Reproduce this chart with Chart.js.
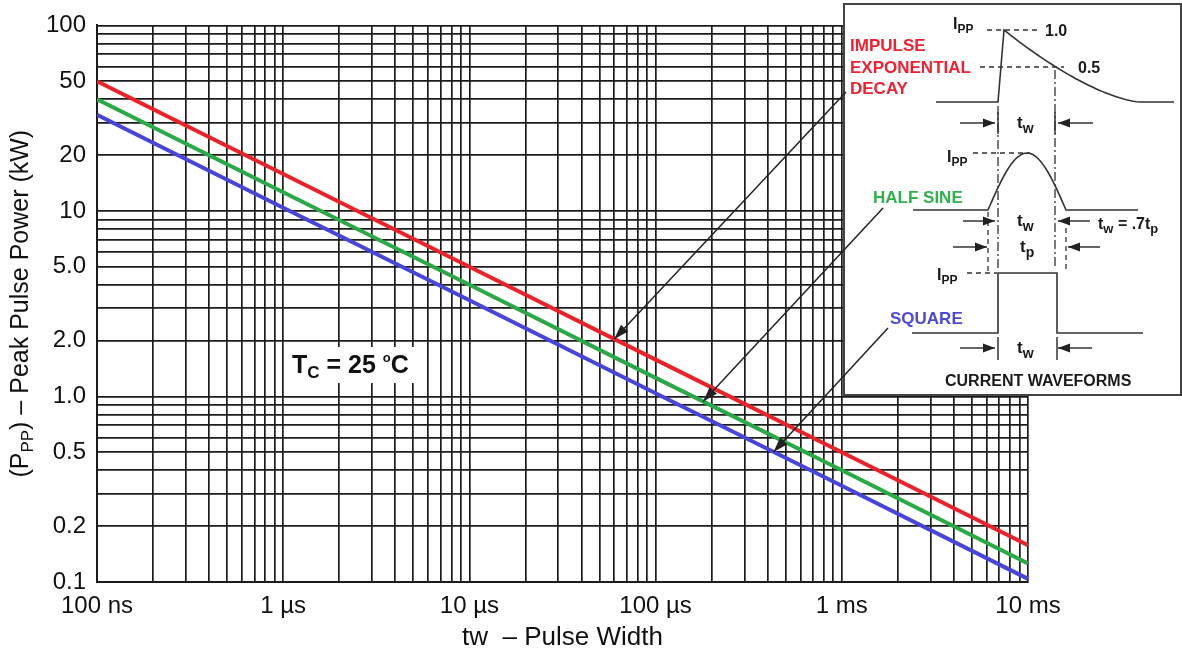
<!DOCTYPE html>
<html>
<head>
<meta charset="utf-8">
<script src="https://cdn.jsdelivr.net/npm/chart.js@4.4.0/dist/chart.umd.min.js"></script>
<style>
  html, body { margin: 0; padding: 0; background: #fff; }
  #wrap { width: 1182px; height: 661px; }
</style>
</head>
<body>
<div id="wrap"><canvas id="pulseChart" width="1182" height="661"></canvas></div>
<script>
const FONT = "'Liberation Sans', Arial, Helvetica, sans-serif";

// pulse width (s) and peak pulse power (kW)
const pulseWidths = [1e-7, 1e-6, 1e-5, 1e-4, 1e-3, 1e-2];
const impulsePower = [50, 15.8, 5.0, 1.58, 0.5, 0.158];
const halfSinePower = [40, 12.6, 4.0, 1.26, 0.4, 0.126];
const squarePower = [33, 10.4, 3.3, 1.04, 0.33, 0.104];

const xTickValues = [1e-7, 1e-6, 1e-5, 1e-4, 1e-3, 1e-2];
const xTickLabels = ['100 ns', '1 µs', '10 µs', '100 µs', '1 ms', '10 ms'];
const yTickValues = [100, 50, 20, 10, 5, 2, 1, 0.5, 0.2, 0.1];
const yTickLabels = ['100', '50', '20', '10', '5.0', '2.0', '1.0', '0.5', '0.2', '0.1'];

// grid lines at 1..9 x every decade
function decadeGrid(minExp, maxExp) {
    const out = [];
    for (let e = minExp; e < maxExp; e++) {
        for (let m = 1; m <= 9; m++) out.push(Number((m * Math.pow(10, e)).toPrecision(3)));
    }
    out.push(Math.pow(10, maxExp));
    return out;
}

function labelFor(v, values, labels) {
    const i = values.findIndex(t => Math.abs(Math.log10(t) - Math.log10(v)) < 1e-6);
    return i < 0 ? '' : labels[i];
}

// log-log interpolation along a series, used to aim the arrows
function powerAt(series, t) {
    for (let i = 0; i < pulseWidths.length - 1; i++) {
        if (t >= pulseWidths[i] && t <= pulseWidths[i + 1]) {
            const f = (Math.log10(t) - Math.log10(pulseWidths[i])) /
                      (Math.log10(pulseWidths[i + 1]) - Math.log10(pulseWidths[i]));
            return Math.pow(10, Math.log10(series[i]) + f * (Math.log10(series[i + 1]) - Math.log10(series[i])));
        }
    }
    return series[series.length - 1];
}

const toPoints = arr => arr.map((p, i) => ({ x: pulseWidths[i], y: p }));

function drawRich(ctx, x, y, parts) {
    let cx = x;
    parts.forEach(p => {
        ctx.font = (p.bold ? 'bold ' : '') + p.size + 'px ' + FONT;
        ctx.fillText(p.t, cx, y + (p.dy || 0));
        cx += ctx.measureText(p.t).width;
    });
    return cx;
}

function richWidth(ctx, parts) {
    let w = 0;
    parts.forEach(p => {
        ctx.font = (p.bold ? 'bold ' : '') + p.size + 'px ' + FONT;
        w += ctx.measureText(p.t).width;
    });
    return w;
}

function arrowHead(ctx, x0, y0, x1, y1, len, half) {
    const a = Math.atan2(y1 - y0, x1 - x0);
    ctx.beginPath();
    ctx.moveTo(x1, y1);
    ctx.lineTo(x1 - len * Math.cos(a) + half * Math.sin(a), y1 - len * Math.sin(a) - half * Math.cos(a));
    ctx.lineTo(x1 - len * Math.cos(a) - half * Math.sin(a), y1 - len * Math.sin(a) + half * Math.cos(a));
    ctx.closePath();
    ctx.fill();
}

function arrow(ctx, x0, y0, x1, y1, len, half) {
    ctx.beginPath();
    ctx.moveTo(x0, y0);
    ctx.lineTo(x1, y1);
    ctx.stroke();
    arrowHead(ctx, x0, y0, x1, y1, len, half);
}

function tSub(ctx, x, y, sub) {
    drawRich(ctx, x, y, [{ t: 't', size: 17, bold: true }, { t: sub, size: 14, bold: true, dy: 5 }]);
}

function ippLabel(ctx, x, y) {
    drawRich(ctx, x, y, [{ t: 'I', size: 16, bold: true }, { t: 'PP', size: 12, bold: true, dy: 4 }]);
}

function drawInset(ctx) {
    ctx.save();
    ctx.fillStyle = '#fff';
    ctx.fillRect(844, 4, 338, 391);
    ctx.strokeStyle = '#444';
    ctx.lineWidth = 2;
    ctx.strokeRect(844, 4, 337, 391);

    ctx.strokeStyle = '#333';
    ctx.fillStyle = '#222';
    ctx.lineWidth = 1.6;

    // impulse exponential decay
    ctx.beginPath();
    ctx.moveTo(936, 102);
    ctx.lineTo(998, 102);
    ctx.lineTo(1004, 30);
    for (let i = 1; i <= 40; i++) {
        const s = i / 40;
        ctx.lineTo(1004 + s * 136, 102 - 72 * Math.pow(1 - s, 1.5));
    }
    ctx.lineTo(1174, 102);
    ctx.stroke();

    // half sine
    ctx.beginPath();
    ctx.moveTo(913, 210);
    ctx.lineTo(988, 210);
    for (let i = 1; i <= 40; i++) {
        const s = i / 40;
        ctx.lineTo(988 + s * 78, 210 - 57 * Math.sin(Math.PI * s));
    }
    ctx.lineTo(1138, 210);
    ctx.stroke();

    // square
    ctx.beginPath();
    ctx.moveTo(912, 333);
    ctx.lineTo(998, 333);
    ctx.lineTo(998, 273);
    ctx.lineTo(1057, 273);
    ctx.lineTo(1057, 333);
    ctx.lineTo(1143, 333);
    ctx.stroke();

    // dashed reference lines
    ctx.lineWidth = 1.3;
    ctx.setLineDash([5, 4]);
    [[987, 30, 1040, 30], [980, 67, 1064, 67], [973, 153, 1030, 153], [967, 273, 997, 273],
     [988, 212, 988, 272], [1066, 228, 1066, 270]].forEach(l => {
        ctx.beginPath();
        ctx.moveTo(l[0], l[1]);
        ctx.lineTo(l[2], l[3]);
        ctx.stroke();
    });
    ctx.setLineDash([9, 3, 2, 3]);
    [[998, 106, 998, 268], [1055, 70, 1055, 268]].forEach(l => {
        ctx.beginPath();
        ctx.moveTo(l[0], l[1]);
        ctx.lineTo(l[2], l[3]);
        ctx.stroke();
    });
    ctx.setLineDash([]);

    // short solid markers
    ctx.lineWidth = 1.5;
    [[998, 337, 998, 360], [1057, 337, 1057, 360], [998, 112, 998, 134], [1055, 112, 1055, 134]].forEach(l => {
        ctx.beginPath();
        ctx.moveTo(l[0], l[1]);
        ctx.lineTo(l[2], l[3]);
        ctx.stroke();
    });

    // width arrows
    [[960, 995, 123], [1093, 1058, 123], [963, 995, 221], [1090, 1058, 221],
     [953, 987, 247], [1100, 1068, 247], [960, 995, 348], [1092, 1058, 348]].forEach(a => {
        arrow(ctx, a[0], a[2], a[1], a[2], 12, 4.5);
    });

    // texts
    ctx.fillStyle = '#1a1a1a';
    ippLabel(ctx, 953, 29);
    ippLabel(ctx, 947, 162);
    ippLabel(ctx, 937, 280);
    ctx.font = 'bold 16px ' + FONT;
    ctx.fillText('1.0', 1045, 36);
    ctx.fillText('0.5', 1078, 73);
    tSub(ctx, 1017, 128, 'w');
    tSub(ctx, 1017, 226, 'w');
    tSub(ctx, 1020, 252, 'p');
    tSub(ctx, 1017, 353, 'w');
    drawRich(ctx, 1098, 229, [{ t: 't', size: 16, bold: true }, { t: 'w', size: 13, bold: true, dy: 4 },
        { t: ' = .7t', size: 16, bold: true }, { t: 'p', size: 13, bold: true, dy: 4 }]);
    ctx.font = 'bold 16px ' + FONT;
    ctx.fillText('CURRENT WAVEFORMS', 945, 386);

    // waveform names
    ctx.font = 'bold 17px ' + FONT;
    ctx.fillStyle = '#ee2233';
    ctx.fillText('IMPULSE', 850, 51);
    ctx.fillText('EXPONENTIAL', 850, 73);
    ctx.fillText('DECAY', 850, 94);
    ctx.fillStyle = '#2fb14c';
    ctx.fillText('HALF SINE', 873, 203);
    ctx.fillStyle = '#4b4bd6';
    ctx.fillText('SQUARE', 890, 324);
    ctx.restore();
}

const overlayPlugin = {
    id: 'overlay',
    afterDraw(chart) {
        const ctx = chart.ctx;
        const xs = chart.scales.x;
        const ys = chart.scales.y;

        // T_C label on a white patch
        ctx.save();
        ctx.fillStyle = '#fff';
        ctx.fillRect(286, 347, 136, 36);
        ctx.fillStyle = '#111';
        drawRich(ctx, 292, 373, [
            { t: 'T', size: 25, bold: true },
            { t: 'C', size: 17, bold: true, dy: 5 },
            { t: ' = 25 ', size: 25, bold: true },
            { t: 'o', size: 13, bold: true, dy: -11 },
            { t: 'C', size: 25, bold: true }
        ]);
        ctx.restore();

        drawInset(ctx);

        // leader arrows from the waveform names to the curves
        ctx.save();
        ctx.strokeStyle = '#222';
        ctx.fillStyle = '#222';
        ctx.lineWidth = 1.5;
        [[impulsePower, 6.0e-5, 846, 92], [halfSinePower, 1.8e-4, 883, 208], [squarePower, 4.3e-4, 888, 328]]
            .forEach(a => {
                const tx = xs.getPixelForValue(a[1]);
                const ty = ys.getPixelForValue(powerAt(a[0], a[1]));
                arrow(ctx, a[2], a[3], tx, ty, 15, 5);
            });
        ctx.restore();

        // y axis title with subscript
        ctx.save();
        ctx.fillStyle = '#111';
        const parts = [
            { t: '(P', size: 25 },
            { t: 'PP', size: 17, dy: 5 },
            { t: ') \u2013 Peak Pulse Power (kW)', size: 25 }
        ];
        const w = richWidth(ctx, parts);
        ctx.translate(20, (chart.chartArea.top + chart.chartArea.bottom) / 2);
        ctx.rotate(-Math.PI / 2);
        drawRich(ctx, -w / 2, 8, parts);
        ctx.restore();
    }
};

const gridColor = '#1c1c1c';

new Chart(document.getElementById('pulseChart').getContext('2d'), {
    type: 'line',
    data: {
        datasets: [
            { label: 'Impulse exponential decay', data: toPoints(impulsePower), borderColor: '#ec2229', borderWidth: 4 },
            { label: 'Half sine', data: toPoints(halfSinePower), borderColor: '#2aaa44', borderWidth: 4 },
            { label: 'Square', data: toPoints(squarePower), borderColor: '#4646dc', borderWidth: 4 }
        ]
    },
    options: {
        responsive: false,
        animation: false,
        elements: { point: { radius: 0 }, line: { tension: 0 } },
        layout: { padding: { left: 0, top: 22, right: 154, bottom: 0 } },
        plugins: { legend: { display: false }, tooltip: { enabled: false } },
        scales: {
            x: {
                type: 'logarithmic',
                min: 1e-7,
                max: 1e-2,
                afterBuildTicks: s => { s.ticks = decadeGrid(-7, -2).map(v => ({ value: v })); },
                afterFit: s => { s.height = 79; },
                grid: { color: gridColor, lineWidth: 1.7, drawTicks: false },
                border: { color: gridColor, width: 2 },
                ticks: {
                    autoSkip: false,
                    maxRotation: 0,
                    padding: 10,
                    color: '#111',
                    font: { family: FONT, size: 24 },
                    callback: v => labelFor(v, xTickValues, xTickLabels)
                },
                title: {
                    display: true,
                    text: 'tw  \u2013 Pulse Width',
                    color: '#111',
                    font: { family: FONT, size: 26 },
                    padding: { top: 0, bottom: 8 }
                }
            },
            y: {
                type: 'logarithmic',
                min: 0.1,
                max: 100,
                afterBuildTicks: s => { s.ticks = decadeGrid(-1, 2).map(v => ({ value: v })); },
                afterFit: s => { s.width = 97; },
                grid: { color: gridColor, lineWidth: 1.7, drawTicks: false },
                border: { color: gridColor, width: 2 },
                ticks: {
                    autoSkip: false,
                    padding: 11,
                    color: '#111',
                    font: { family: FONT, size: 24 },
                    callback: v => labelFor(v, yTickValues, yTickLabels)
                }
            }
        }
    },
    plugins: [overlayPlugin]
});
</script>
</body>
</html>
